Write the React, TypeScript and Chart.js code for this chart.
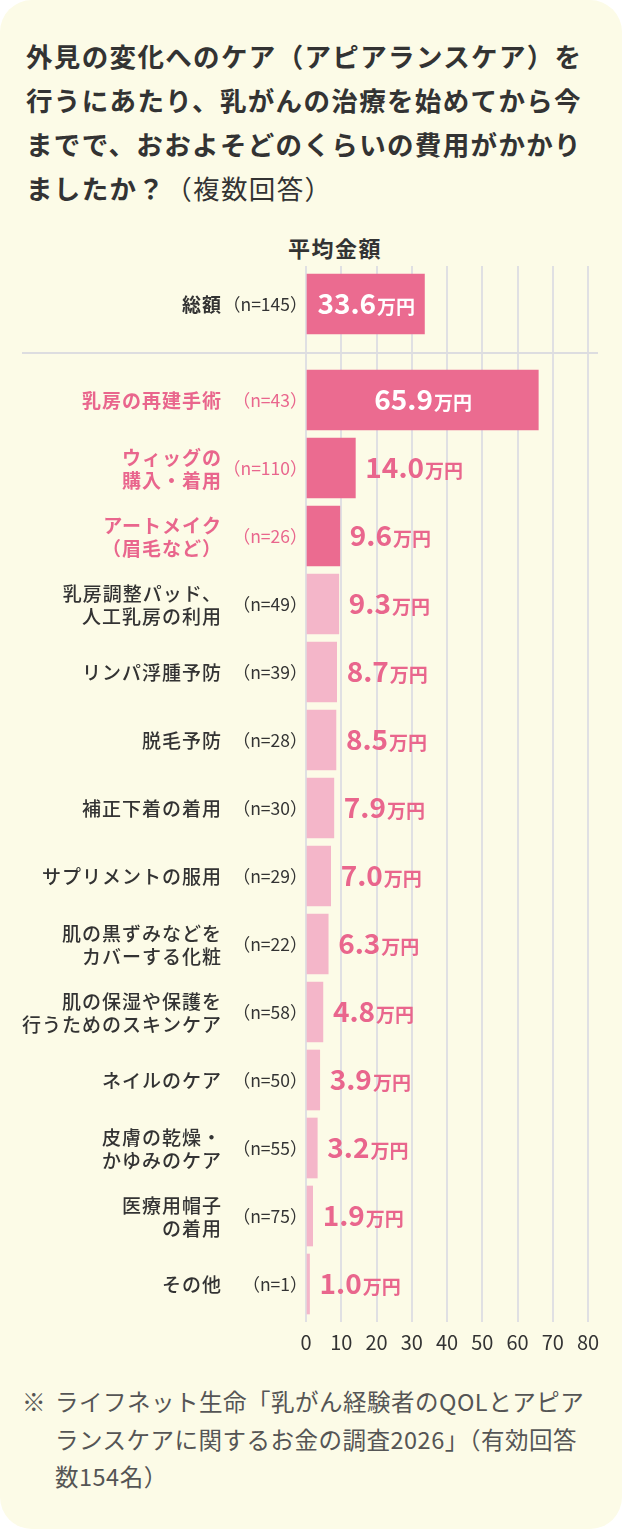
import React, { useEffect, useRef } from "react";
import { Chart, registerables } from "chart.js";

Chart.register(...registerables);

const FONT = "'Noto Sans CJK JP', 'Noto Sans', sans-serif";

// ---- data ----
const totalNames: string[][] = [["総額"]];
const totalSizes: number[] = [145];
const totalValues: number[] = [33.6];

const categories: string[][] = [
  ["乳房の再建手術"],
  ["ウィッグの", "購入・着用"],
  ["アートメイク", "（眉毛など）"],
  ["乳房調整パッド、", "人工乳房の利用"],
  ["リンパ浮腫予防"],
  ["脱毛予防"],
  ["補正下着の着用"],
  ["サプリメントの服用"],
  ["肌の黒ずみなどを", "カバーする化粧"],
  ["肌の保湿や保護を", "行うためのスキンケア"],
  ["ネイルのケア"],
  ["皮膚の乾燥・", "かゆみのケア"],
  ["医療用帽子", "の着用"],
  ["その他"],
];
const sampleSizes: number[] = [43, 110, 26, 49, 39, 28, 30, 29, 22, 58, 50, 55, 75, 1];
const values: number[] = [65.9, 14.0, 9.6, 9.3, 8.7, 8.5, 7.9, 7.0, 6.3, 4.8, 3.9, 3.2, 1.9, 1.0];
const highlighted: boolean[] = [true, true, true, false, false, false, false, false, false, false, false, false, false, false];
const xTickValues: number[] = [0, 10, 20, 30, 40, 50, 60, 70, 80];
const unitLabel = "万円";

// ---- styles ----
const CARD = "#FCFBE7";
const DARK = "#333333";
const PINK_BAR = "#EB6B90";
const LIGHT_BAR = "#F4B6C9";
const PINK_TEXT = "#E9668D";
const GRID = "#E0E0E3";

function rowPlugin(names: string[][], sizes: number[], hl: boolean[], nameBoldAll: boolean) {
  return {
    id: "rowLabels",
    afterDatasetsDraw(chart: any) {
      const ctx: CanvasRenderingContext2D = chart.ctx;
      const ys = chart.scales.y;
      const meta = chart.getDatasetMeta(0);
      names.forEach((lines, i) => {
        const y = ys.getPixelForValue(i);
        const color = hl[i] ? PINK_TEXT : DARK;
        ctx.save();
        // names
        ctx.fillStyle = color;
        ctx.font = `${hl[i] || nameBoldAll ? "bold" : "500"} 19px ${FONT}`;
        (ctx as any).letterSpacing = "1px";
        ctx.textAlign = "right";
        ctx.textBaseline = "middle";
        const lh = 23;
        lines.forEach((ln, j) => {
          const ly = y + (j - (lines.length - 1) / 2) * lh;
          ctx.fillText(ln, 222, ly + 1);
        });
        // n
        (ctx as any).letterSpacing = "0px";
        ctx.font = `400 17.5px ${FONT}`;
        ctx.textAlign = "left";
        const t = `（n=${sizes[i]}）`;
        const m = ctx.measureText(t);
        ctx.fillText(t, 296 - m.actualBoundingBoxRight, y);
        // value label
        const bar = meta.data[i];
        const v = chart.data.datasets[0].data[i] as number;
        const numTxt = v.toFixed(1);
        ctx.font = `bold 28px ${FONT}`;
        const nw = ctx.measureText(numTxt).width;
        ctx.font = `bold 19px ${FONT}`;
        const uw = ctx.measureText(unitLabel).width;
        const inside = v > 20;
        let sx: number;
        if (inside) {
          sx = (bar.x + bar.base) / 2 - (nw + uw) / 2;
          ctx.fillStyle = "#FFFFFF";
        } else {
          sx = bar.x + 10;
          ctx.fillStyle = PINK_TEXT;
        }
        ctx.textBaseline = "alphabetic";
        ctx.font = `bold 28px ${FONT}`;
        ctx.fillText(numTxt, sx, y + 10);
        ctx.font = `bold 19px ${FONT}`;
        ctx.fillText(unitLabel, sx + nw + 1, y + 10);
        ctx.restore();
      });
    },
  };
}

function TotalChart() {
  const ref = useRef<HTMLCanvasElement>(null);
  useEffect(() => {
    const chart = new Chart(ref.current!, {
      type: "bar",
      data: {
        labels: totalNames.map((n) => n.join("")),
        datasets: [{ data: totalValues, backgroundColor: PINK_BAR, barThickness: 60 }],
      },
      options: {
        indexAxis: "y",
        animation: false,
        responsive: false,
        maintainAspectRatio: false,
        layout: { padding: { left: 306, right: 34, top: 0, bottom: 0 } },
        plugins: { legend: { display: false }, tooltip: { enabled: false } },
        scales: {
          x: {
            type: "linear",
            min: xTickValues[0],
            max: xTickValues[xTickValues.length - 1],
            position: "bottom",
            afterBuildTicks: (s: any) => { s.ticks = xTickValues.map((v) => ({ value: v })); },
            afterFit: (s: any) => { s.height = 11; },
            ticks: { display: false },
            grid: { color: GRID, lineWidth: 2, drawTicks: true, tickLength: 11 },
            border: { display: false },
          },
          y: { display: false },
        },
      } as any,
      plugins: [rowPlugin(totalNames, totalSizes, [false], true)],
    });
    return () => chart.destroy();
  }, []);
  return (
    <canvas ref={ref} width={622} height={87} style={{ position: "absolute", left: 0, top: 266, width: 622, height: 87 }} />
  );
}

function MainChart() {
  const ref = useRef<HTMLCanvasElement>(null);
  useEffect(() => {
    const chart = new Chart(ref.current!, {
      type: "bar",
      data: {
        labels: categories.map((c) => c.join("")),
        datasets: [
          {
            data: values,
            backgroundColor: highlighted.map((h) => (h ? PINK_BAR : LIGHT_BAR)),
            barThickness: 60,
          },
        ],
      },
      options: {
        indexAxis: "y",
        animation: false,
        responsive: false,
        maintainAspectRatio: false,
        layout: { padding: { left: 306, right: 34, top: 0, bottom: 0 } },
        plugins: { legend: { display: false }, tooltip: { enabled: false } },
        scales: {
          x: {
            type: "linear",
            min: xTickValues[0],
            max: xTickValues[xTickValues.length - 1],
            position: "bottom",
            afterBuildTicks: (s: any) => { s.ticks = xTickValues.map((v) => ({ value: v })); },
            afterFit: (s: any) => { s.height = 45; },
            ticks: { color: DARK, font: { family: FONT, size: 20 }, padding: 8, maxRotation: 0, autoSkip: false },
            grid: { color: GRID, lineWidth: 2, drawTicks: true, tickLength: 4 },
            border: { display: false },
          },
          x2: {
            type: "linear",
            min: xTickValues[0],
            max: xTickValues[xTickValues.length - 1],
            position: "top",
            afterBuildTicks: (s: any) => { s.ticks = xTickValues.map((v) => ({ value: v })); },
            afterFit: (s: any) => { s.height = 13; },
            ticks: { display: false },
            grid: { color: GRID, lineWidth: 2, drawTicks: true, tickLength: 13, drawOnChartArea: false },
            border: { display: false },
          },
          y: { display: false },
        },
      } as any,
      plugins: [rowPlugin(categories, sampleSizes, highlighted, false)],
    });
    return () => chart.destroy();
  }, []);
  return (
    <canvas ref={ref} width={622} height={1010} style={{ position: "absolute", left: 0, top: 353, width: 622, height: 1010 }} />
  );
}

export default function App() {
  useEffect(() => {
    document.body.style.margin = "0";
    document.body.style.background = "#FFFFFF";
  }, []);
  return (
    <div style={{ position: "absolute", left: 0, top: 0, width: 622, height: 1529, overflow: "hidden", fontFamily: FONT }}>
      <div style={{ position: "absolute", left: 0, top: 0, width: 622, height: 1529, borderRadius: 32, background: CARD }} />
      <div
        style={{
          position: "absolute",
          left: 26,
          top: 34,
          fontSize: 26.5,
          lineHeight: "44px",
          letterSpacing: "1.35px",
          fontWeight: 700,
          color: DARK,
          whiteSpace: "nowrap",
        }}
      >
        外見の変化へのケア（アピアランスケア）を<br />
        行うにあたり、乳がんの治療を始めてから今<br />
        までで、おおよそどのくらいの費用がかかり<br />
        ましたか？<span style={{ fontWeight: 400 }}>（複数回答）</span>
      </div>
      <div
        style={{
          position: "absolute",
          left: 288,
          top: 232,
          fontSize: 22,
          lineHeight: "30px",
          letterSpacing: "1.5px",
          fontWeight: 700,
          color: DARK,
          whiteSpace: "nowrap",
        }}
      >
        平均金額
      </div>
      <TotalChart />
      <MainChart />
      <div style={{ position: "absolute", left: 22, top: 352, width: 576, height: 2, background: "#DDDDE0" }} />
      <div
        style={{
          position: "absolute",
          left: 22,
          top: 1383,
          fontSize: 23.5,
          lineHeight: "37.5px",
          letterSpacing: "0.5px",
          color: "#555555",
          whiteSpace: "nowrap",
          display: "flex",
        }}
      >
        <div style={{ width: 33 }}>※</div>
        <div>
          ライフネット生命「乳がん経験者のQOLとアピア<br />
          ランスケアに関するお金の調査2026」（有効回答<br />
          数154名）
        </div>
      </div>
    </div>
  );
}
